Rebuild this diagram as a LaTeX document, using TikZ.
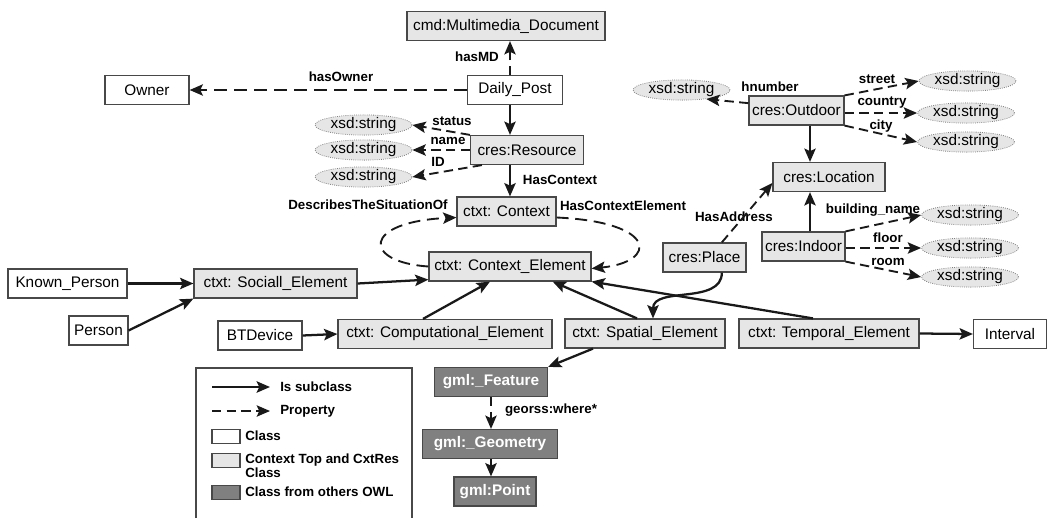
\documentclass[tikz,border=0pt]{standalone}
\usepackage{fontspec}
\setmainfont{Liberation Sans}
\usetikzlibrary{arrows.meta,shapes.geometric,calc}
\definecolor{lightfill}{HTML}{E6E6E6}
\definecolor{darkfill}{HTML}{808080}
\definecolor{edgegray}{HTML}{484848}
\begin{document}
\begin{tikzpicture}[x=0.75pt,y=-0.75pt,
 bw/.style={minimum width=#1*0.75pt},
 box/.style={draw=edgegray,line width=0.9pt,inner sep=0pt,minimum height=21.75pt,font=\fontsize{11.5}{13}\selectfont,text=black},
 cls/.style={box,fill=white},
 ctop/.style={box,fill=lightfill},
 owl/.style={box,fill=darkfill,text=white,font=\fontsize{11.5}{13}\selectfont\bfseries},
 lit/.style={ellipse,draw=gray,densely dotted,line width=0.6pt,fill=lightfill,minimum width=72.75pt,minimum height=15pt,inner sep=0pt,font=\fontsize{11.5}{13}\selectfont},
 lbl/.style={font=\fontsize{10}{12}\selectfont\bfseries,inner sep=0pt},
 sub/.style={-{Stealth[length=10pt,width=8.5pt,inset=2pt]},line width=1.7pt,color=black!90},
 prop/.style={sub,line width=1.4pt,dash pattern=on 7pt off 4pt},
]
\useasboundingbox (0,0) rectangle (1048,518);

% axis coordinates
\coordinate (ax) at (510,0);
\coordinate (ox) at (810,0);

% main classes
\node[ctop,bw=198] (cmd) at (506,26) {cmd:Multimedia\_Document};
\node[cls,bw=95] (dp) at (515,90) {Daily\_Post};
\node[cls,bw=84] (owner) at (147,90) {Owner};
\node[ctop,bw=113] (res) at (527,150) {cres:Resource};
\node[ctop,bw=99] (ctx) at (506.5,211.5) {ctxt: Context};
\node[ctop,bw=162] (ce) at (510,266.5) {ctxt: Context\_Element};
\node[ctop,bw=163] (soc) at (275.5,283.5) {ctxt: Sociall\_Element};
\node[cls,bw=119] (kp) at (67.5,283.5) {Known\_Person};
\node[cls,bw=59] (per) at (98.5,330.5) {Person};
\node[cls,bw=84] (bt) at (260,335.5) {BTDevice};
\node[ctop,bw=214] (comp) at (445,334) {ctxt: Computational\_Element};
\node[ctop,bw=160] (spat) at (645,333.5) {ctxt: Spatial\_Element};
\node[ctop,bw=180] (temp) at (829,333.5) {ctxt: Temporal\_Element};
\node[cls,bw=73] (intv) at (1010,334) {Interval};
\node[owl,bw=113] (feat) at (491,382) {gml:\_Feature};
\node[owl,bw=135] (geom) at (490,444) {gml:\_Geometry};
\node[owl,bw=82] (point) at (495,491.5) {gml:Point};
\node[ctop,bw=83] (place) at (704.5,257.5) {cres:Place};
\node[ctop,bw=112] (loc) at (829,177) {cres:Location};
\node[ctop,bw=95] (out) at (796.5,110.5) {cres:Outdoor};
\node[ctop,bw=83] (ind) at (803.5,246.5) {cres:Indoor};

% literals
\node[lit] (e1) at (363.5,125) {xsd:string};
\node[lit] (e2) at (363.5,150) {xsd:string};
\node[lit] (e3) at (363.5,177) {xsd:string};
\node[lit] (eh) at (681.5,90) {xsd:string};
\node[lit] (es) at (967.5,81) {xsd:string};
\node[lit] (ec) at (966,113) {xsd:string};
\node[lit] (ey) at (966,142) {xsd:string};
\node[lit] (eb) at (970,215) {xsd:string};
\node[lit] (ef) at (970,248) {xsd:string};
\node[lit] (er) at (970,277) {xsd:string};

% labels
\node[lbl] (lmd) at (477,57) {hasMD};
\node[lbl] (lown) at (341,77) {hasOwner};
\node[lbl] (lst) at (452,121) {status};
\node[lbl] (lnm) at (448,141) {name};
\node[lbl] (lid) at (438,162) {ID};
\node[lbl] (lhc) at (560,180) {HasContext};
\node[lbl] (ldes) at (368,205) {DescribesTheSituationOf};
\node[lbl] (lhce) at (623,206) {HasContextElement};
\node[lbl] (lha) at (734,217) {HasAddress};
\node[lbl] (lhn) at (770,87) {hnumber};
\node[lbl] (lstr) at (877,79) {street};
\node[lbl] (lcou) at (882,103) {country};
\node[lbl] (lcit) at (881,126) {city};
\node[lbl] (lbn) at (873,210) {building\_name};
\node[lbl] (lfl) at (888,238) {floor};
\node[lbl] (lrm) at (888,262) {room};
\node[lbl] (lgeo) at (551,410) {georss:where*};

% connectors
\draw[prop] (dp.north -| ax) -- (cmd.south -| ax);
\draw[prop,dash pattern=on 10pt off 5pt] (dp.west) -- (owner.east);
\draw[sub] (dp.south -| ax) -- (res.north -| ax);
\draw[prop] (res.north west) -- (e1.east);
\draw[prop] (res.west) -- (e2.east);
\draw[prop] ([xshift=9pt]res.south west) -- (e3.east);
\draw[sub] (res.south -| ax) -- (ctx.north -| ax);
\draw[prop,dash pattern=on 9pt off 5pt] (ce.west) .. controls (362,262) and (362,222) .. ([yshift=-4.5pt]ctx.west);
\draw[prop,dash pattern=on 9pt off 5pt] ([yshift=-4.5pt]ctx.east) .. controls (658,222) and (658,262) .. ([yshift=-1.5pt]ce.east);
\draw[sub] (kp.east) -- (soc.west);
\draw[sub] (per.east) -- (soc.south west);
\draw[sub] (bt.east) -- (comp.west);
\draw[sub] (soc.east) -- ([yshift=1.5pt]ce.south west);
\draw[sub] ([xshift=-16.5pt]comp.north) -- ([xshift=-15pt]ce.south);
\draw[sub] ([xshift=-6pt]spat.north) -- ([xshift=32pt]ce.south);
\draw[sub] ([xshift=-12pt]temp.north) -- (ce.south east);
\draw[sub] (temp.east) -- (intv.west);
\draw[sub] ([xshift=13pt]place.south) to[out=-90,in=90] ([xshift=6pt]spat.north);
\draw[prop] ([xshift=13pt]place.north) -- ([yshift=-4.5pt]loc.west);
\draw[sub] (out.south -| ox) -- (loc.north -| ox);
\draw[sub] (ind.north -| ox) -- (loc.south -| ox);
\draw[prop] ([yshift=5.5pt]out.west) -- (eh.-20);
\draw[prop] (out.north east) -- (es.west);
\draw[prop] (out.east |- ec.west) -- (ec.west);
\draw[prop] (out.south east) -- (ey.west);
\draw[prop] (ind.north east) -- (eb.west);
\draw[prop] (ind.east |- ef.west) -- (ef.west);
\draw[prop] (ind.south east) -- (er.west);
\draw[sub] ([xshift=-39pt]spat.south) -- (feat.north east);
\draw[prop] (feat.south) -- (geom.north -| feat.south);
\draw[sub] (geom.south -| feat.south) -- (point.north -| feat.south);

% legend
\draw[draw=edgegray,line width=0.9pt] (196,518) -- (196,368) -- (412,368) -- (412,518);
\coordinate (la1) at (212,387); \coordinate (lb1) at (270,387);
\coordinate (la2) at (212,411); \coordinate (lb2) at (270,411);
\draw[sub] (la1) -- (lb1);
\draw[prop] (la2) -- (lb2);
\node[lbl,anchor=west] (t1) at (280,387) {Is subclass};
\node[lbl,anchor=west] (t2) at (280,411) {Property};
\node[draw=edgegray,line width=0.8pt,fill=white,minimum width=21pt,minimum height=10pt,inner sep=0pt] (sw1) at (226,436.5) {};
\node[draw=edgegray,line width=0.8pt,fill=lightfill,minimum width=21pt,minimum height=10pt,inner sep=0pt] (sw2) at (226,460.5) {};
\node[draw=edgegray,line width=0.8pt,fill=darkfill,minimum width=21pt,minimum height=10pt,inner sep=0pt] (sw3) at (226,492.5) {};
\node[lbl,anchor=west] (t3) at (245,436) {Class};
\node[lbl,anchor=north west,align=left,font=\fontsize{10}{10.5}\selectfont\bfseries] (t4) at (245,454) {Context Top and CxtRes\\Class};
\node[lbl,anchor=west] (t5) at (245,492) {Class from others OWL};
\end{tikzpicture}
\end{document}
